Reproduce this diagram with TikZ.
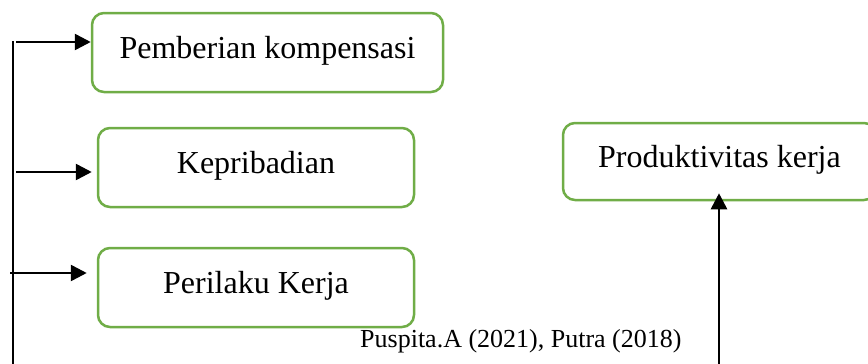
\documentclass[tikz,border=0pt]{standalone}
\usepackage{fontspec}
\setmainfont{Liberation Serif}
\usetikzlibrary{arrows.meta}
\definecolor{boxgreen}{RGB}{112,173,71}
\tikzset{
  greenbox/.style={draw=boxgreen, line width=2.5pt, rounded corners=12pt, fill=white,
    inner sep=0pt, text height=22pt, text depth=11pt, font=\fontsize{32}{36}\selectfont},
  conn/.style={line width=2.6pt, -{Triangle[length=16pt,width=16pt]}},
  trunk/.style={line width=2pt}
}
\begin{document}
\begin{tikzpicture}[x=1pt,y=-1pt]
\useasboundingbox (0,0) rectangle (868,364);
\node[greenbox, minimum width=351pt, minimum height=79pt] (komp) at (267.5,52.5) {Pemberian kompensasi};
\node[greenbox, minimum width=316pt, minimum height=79pt] (prib) at (256,167.5) {Kepribadian};
\node[greenbox, minimum width=316pt, minimum height=79pt] (peri) at (256,287.5) {Perilaku Kerja};
\node[greenbox, minimum width=313pt, minimum height=77pt] (prod) at (719.5,161.5) {Produktivitas kerja};
\node[font=\fontsize{26}{30}\selectfont, inner sep=0pt, anchor=base west] (cite) at (360,347) {Puspita.A (2021), Putra (2018)};
\coordinate (ttop) at (13,41);
\coordinate (tbot) at (13,364);
\draw[trunk] (ttop) -- (tbot);
\coordinate (a1) at (16,42);
\coordinate (a2) at (16,172);
\coordinate (a3) at (10,273);
\draw[conn] (a1) -- (a1 -| komp.west);
\draw[conn] (a2) -- ([xshift=-5pt]a2 -| prib.west);
\draw[conn] (a3) -- ([xshift=-10pt]a3 -| peri.west);
\coordinate (vb) at (719,364);
\draw[conn] (vb) -- ([yshift=8pt]vb |- prod.south);
\end{tikzpicture}
\end{document}
